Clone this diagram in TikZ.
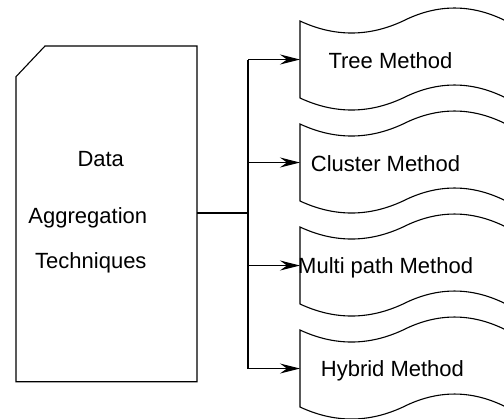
\documentclass[tikz,border=0pt]{standalone}
\usepackage{fontspec}
\setmainfont{Liberation Sans}
\usetikzlibrary{arrows.meta}
\begin{document}
\begin{tikzpicture}[x=1bp,y=-1bp,
  line/.style={draw=black,line width=1.1bp},
  arr/.style={line,-{Stealth[length=20bp,width=10bp,inset=7bp]}},
  lbl/.style={inner sep=0pt,anchor=base west,font=\fontsize{22bp}{26bp}\selectfont},
  tapetop/.pic={}]
\useasboundingbox (0,0) rectangle (504,418);
\clip (0,0) rectangle (504,418);
% left source box with cut corner
\draw[line] (16,76.7) -- (45,46) -- (197,46) -- (197,381.7) -- (16,381.7) -- cycle;
\node[lbl] (t1) at (77.3,166) {Data};
\node[lbl] (t2) at (28.3,223.3) {Aggregation};
\node[lbl] (t3) at (35,268.3) {Techniques};
% tape shapes
\foreach \t/\n in {21/a,124/b,227/c,330/d}{
  \draw[line] (506,\t+77) -- (506,\t)
    .. controls (471.67,\t-17.3) and (437.33,\t-17.3) .. (403,\t)
    .. controls (368.67,\t+16) and (334.33,\t+16) .. (300,\t)
    -- (300,\t+77)
    .. controls (334.33,\t+93) and (368.67,\t+93) .. (403,\t+77)
    .. controls (437.33,\t+59.7) and (471.67,\t+59.7) .. (506,\t+77);
  \coordinate (in\n) at (300,\t+38.5);
}
\coordinate (src) at (197,213);
\coordinate (bus) at (248,213);
\coordinate (busa) at (248,59.5);
\coordinate (busd) at (248,368.5);
\draw[line] (src) -- (bus);
\draw[line] (busa) -- (busd);
\draw[arr] (busa) -- (ina);
\draw[arr] (248,162.5) -- (inb);
\draw[arr] (248,265.5) -- (inc);
\draw[arr] (busd) -- (ind);
\node[lbl] (m1) at (328.3,68.3) {Tree Method};
\node[lbl] (m2) at (310.7,171.7) {Cluster Method};
\node[lbl] (m3) at (298,273.3) {Multi path Method};
\node[lbl] (m4) at (320.7,376.7) {Hybrid Method};
\end{tikzpicture}
\end{document}
